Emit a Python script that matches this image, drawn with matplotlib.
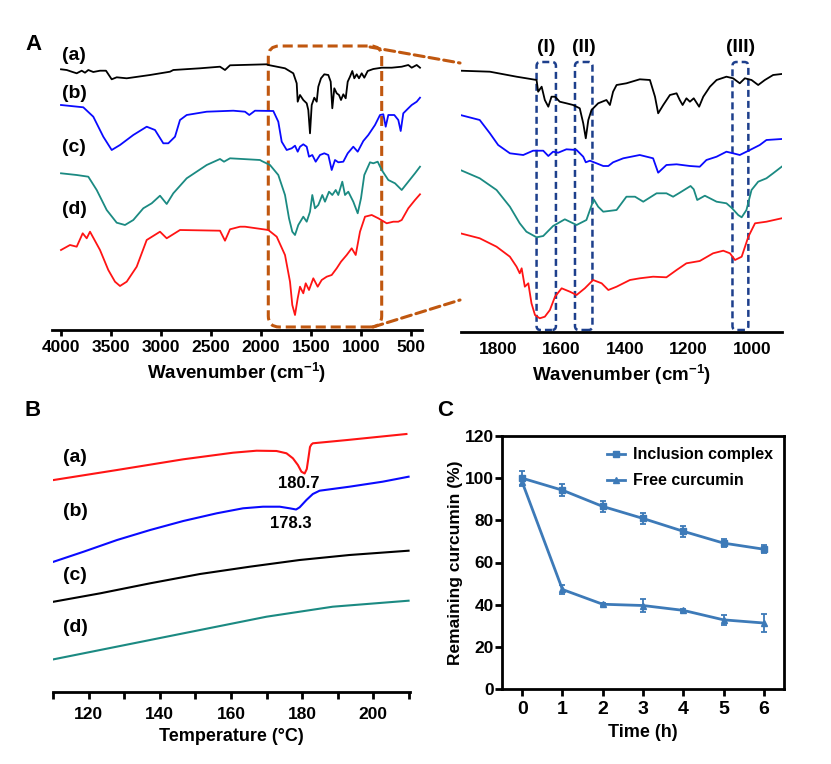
import matplotlib
matplotlib.use('Agg')
import numpy as np
import matplotlib.pyplot as plt
from matplotlib.patches import FancyBboxPatch, ConnectionPatch
from matplotlib.lines import Line2D

plt.rcParams['font.family'] = ['Liberation Sans', 'DejaVu Sans']
plt.rcParams['font.weight'] = 'bold'
plt.rcParams['mathtext.fontset'] = 'custom'
plt.rcParams['mathtext.bf'] = 'Liberation Sans:bold'
plt.rcParams['mathtext.rm'] = 'Liberation Sans:bold'

# ---- FTIR full range (a.u., stacked) ----
ir_wn_a = [4000, 3943, 3893, 3843, 3793, 3760, 3727, 3677, 3610, 3550, 3493, 3443, 3343, 3110, 2910, 2877,
           2610, 2410, 2360, 2310, 1943, 1927, 1760, 1677, 1660, 1643, 1633, 1610, 1577, 1543, 1527, 1510,
           1493, 1467, 1443, 1427, 1400, 1367, 1327, 1303, 1287, 1267, 1243, 1220, 1200, 1177, 1153, 1133,
           1110, 1087, 1067, 1043, 1020, 993, 967, 933, 877, 793, 693, 593, 527, 493, 443, 410]
ir_a = [260.7, 260, 258.3, 256.7, 259.3, 257.3, 260, 258, 259.3, 259.3, 250.7, 252.7, 251.7, 255, 258.3, 260,
        261.7, 263.3, 260, 264.7, 265.7, 265, 261.7, 256.7, 251.7, 246.7, 228.3, 235, 230, 226.7, 220, 196.7,
        225, 232.3, 228.3, 243.3, 251.7, 255.7, 255, 248.3, 221.7, 241.7, 236.7, 235, 230, 235.7, 231.7, 248.3,
        253.3, 259, 251.7, 255.7, 251.7, 256.7, 252.3, 259, 261, 262.3, 262.3, 263.3, 265, 262.3, 265, 262.3]

ir_wn_b = [4000, 3777, 3677, 3577, 3493, 3410, 3277, 3143, 3060, 2977, 2927, 2860, 2810, 2743, 2543, 2277,
           2160, 2117, 2060, 1877, 1827, 1793, 1743, 1693, 1660, 1633, 1610, 1577, 1543, 1520, 1487, 1453,
           1410, 1367, 1327, 1293, 1260, 1227, 1177, 1133, 1077, 1033, 977, 927, 860, 810, 777, 753, 727,
           667, 627, 603, 577, 527, 493, 443, 410]
ir_b = [225, 222.7, 213.3, 193.3, 180, 185, 195, 203.3, 200, 186.7, 186.7, 193.3, 210, 215, 218.3, 219.3,
        218.3, 215, 219.3, 219, 208.3, 188.3, 180, 181.7, 184.3, 178.3, 183.3, 185.7, 183.3, 173.3, 175, 168.3,
        175, 176.7, 175, 160, 170, 167.7, 168.3, 176.7, 183.3, 178.3, 189, 195, 205, 215, 215.7, 203.3, 215,
        215, 210, 199, 216.7, 221.7, 225, 228.3, 232.3]

ir_wn_c = [4000, 3843, 3727, 3643, 3543, 3443, 3360, 3277, 3177, 3093, 3010, 2943, 2877, 2743, 2543, 2410,
           2370, 2310, 2010, 1993, 1910, 1827, 1760, 1720, 1687, 1660, 1627, 1577, 1543, 1510, 1487, 1460,
           1427, 1387, 1360, 1320, 1287, 1253, 1227, 1187, 1160, 1127, 1077, 1033, 1000, 967, 910, 877, 833,
           793, 727, 660, 593, 527, 460, 410]
ir_c = [156.7, 155, 153.3, 140, 120, 107.3, 105, 110, 121.7, 126.7, 134.3, 126, 136.7, 151.7, 165, 171,
        168.3, 171.7, 170, 169, 165, 155, 135, 111.7, 98.3, 95, 105, 113.3, 108.3, 118.3, 135, 121.7,
        125, 135, 128.3, 138.3, 135, 140, 135, 148.3, 135, 138.3, 128.3, 116.7, 131.7, 155, 167.7, 166.7, 168.3,
        160, 150, 146.7, 140, 148.3, 156.7, 163.3]

ir_wn_d = [4000, 3910, 3843, 3783, 3743, 3710, 3610, 3527, 3460, 3410, 3343, 3243, 3143, 3010, 2943, 2810,
           2410, 2360, 2310, 2210, 2160, 1927, 1843, 1760, 1710, 1687, 1660, 1633, 1610, 1577, 1553, 1520,
           1477, 1433, 1393, 1343, 1293, 1243, 1200, 1143, 1093, 1053, 1010, 960, 893, 827, 743, 677, 627,
           593, 527, 460, 410]
ir_d = [80, 85, 83.3, 96.7, 91.7, 98.3, 80, 60, 48.3, 44, 48.3, 63.3, 90, 98.3, 91.7, 100,
        99.3, 89.3, 100.7, 103.3, 103.3, 100, 93.3, 75, 48.3, 25, 15, 31.7, 43.3, 36.7, 46.7, 40,
        51.7, 43.3, 50, 53.3, 55, 61.7, 68.3, 75, 81.7, 75, 98.3, 113.3, 115, 111.7, 106.7, 108.3, 108.3,
        110, 121.7, 130, 135.7]

# ---- FTIR zoomed 1900-900 ----
zm_wn_a = [1918, 1825, 1741, 1710, 1678, 1673, 1662, 1652, 1641, 1631, 1620, 1605, 1584, 1563, 1542, 1531,
           1523, 1515, 1505, 1484, 1458, 1447, 1437, 1426, 1395, 1353, 1321, 1305, 1295, 1279, 1258, 1237,
           1227, 1218, 1206, 1195, 1183, 1166, 1153, 1132, 1111, 1080, 1059, 1038, 1022, 1001, 980, 959, 933, 906]
zm_a = [261.3, 260.3, 255.3, 253.7, 252, 240.3, 245.3, 232, 225.3, 235.3, 235.3, 230.3, 228.7, 227, 223.7, 208.7,
        193.7, 212, 222, 228.7, 232, 227, 240.3, 247, 248.7, 252.7, 252, 235.3, 218.7, 227, 237, 238.7,
        232, 227, 233.7, 230.3, 233.7, 225.3, 235.3, 245.3, 252, 255.3, 253.7, 248.7, 253.7, 252, 247, 252, 257, 258]

zm_wn_b = [1918, 1857, 1825, 1799, 1762, 1720, 1689, 1657, 1641, 1626, 1610, 1584, 1552, 1531, 1523, 1510,
           1489, 1468, 1452, 1437, 1405, 1353, 1311, 1295, 1269, 1237, 1195, 1164, 1143, 1111, 1080, 1059,
           1038, 1006, 975, 954, 906]
zm_b = [217, 212, 198.7, 187, 178.7, 177, 181.3, 181.3, 176, 180.3, 179.3, 182.7, 182, 175.3, 169.7, 171.3,
        168.7, 166, 166, 169.7, 173.7, 177, 173.7, 159.3, 167, 167.7, 166, 165.3, 172, 175.3, 180.3, 178.7,
        177, 182, 187, 192, 193]

zm_wn_c = [1918, 1857, 1804, 1762, 1731, 1710, 1678, 1657, 1626, 1589, 1552, 1521, 1498, 1484, 1468, 1426,
           1395, 1368, 1342, 1300, 1269, 1248, 1227, 1193, 1183, 1172, 1148, 1111, 1080, 1064, 1043, 1032,
           1017, 1001, 980, 954, 933, 906]
zm_c = [162, 153.7, 142, 125.3, 108.7, 100.3, 94.7, 96, 106, 112.7, 107, 112, 132.7, 125.3, 120.3, 122,
        135.3, 135.3, 130.3, 138.7, 138.7, 135.3, 139.3, 146, 142.7, 132, 136.3, 130.3, 128.7, 124.3, 117, 114.7,
        122, 142, 150.3, 153.7, 158.7, 165.3]

zm_wn_d = [1918, 1857, 1804, 1762, 1741, 1731, 1725, 1715, 1704, 1694, 1683, 1668, 1652, 1636, 1620, 1599,
           1573, 1552, 1526, 1500, 1473, 1452, 1426, 1384, 1353, 1311, 1269, 1237, 1206, 1164, 1122, 1090,
           1069, 1053, 1032, 1011, 990, 954, 906]
zm_d = [98.7, 93.7, 85.3, 75.3, 65.3, 58.7, 63.7, 45.3, 48.7, 28.7, 17, 13.7, 15.3, 22, 35.3, 43.7,
        40.3, 37, 43.7, 52, 48.7, 42, 45.3, 52, 53.7, 55.3, 54.7, 62, 68.7, 71, 78.7, 81.3,
        78.7, 72, 75.3, 95.3, 108.7, 110.3, 113.7]

# ---- DSC ----
dsc_t_a = [110.2, 128.0, 146.6, 160.6, 167.2, 172.8, 175.6, 177.4, 178.8, 179.8, 180.7, 181.3, 181.8, 182.2,
           182.6, 183.0, 192.7, 209.3]
dsc_a = [212, 222, 232.7, 239.3, 241.3, 241, 238.7, 233.7, 227, 220.3, 218.5, 223, 235, 245, 247.5, 248.7, 252, 258]
dsc_t_b = [110.2, 118.6, 128.0, 137.3, 146.6, 156.0, 163.4, 169.0, 173.7, 176.5, 178.3, 179.3, 181.2, 183.0,
           184.9, 193.3, 202.6, 209.9]
dsc_b = [130.3, 140.3, 152, 162, 171, 178.7, 183.7, 185.3, 185.3, 183.7, 182.5, 184.7, 192, 198, 201.3, 205.3,
         210.3, 215.3]
dsc_t_c = [110.2, 123.3, 137.3, 151.3, 165.3, 179.3, 193.3, 209.9]
dsc_c = [90.3, 98.7, 108.7, 118, 125.3, 132, 137, 141.3]
dsc_t_d = [110.2, 141.9, 170.0, 188.6, 209.9]
dsc_d = [32.7, 55.3, 75.3, 85.3, 91.3]

# ---- stability ----
time_h = [0, 1, 2, 3, 4, 5, 6]
inclusion = [100, 94.3, 86.6, 80.9, 74.8, 69.2, 66.3]
inclusion_err = [3.6, 2.8, 2.7, 2.5, 2.5, 2.0, 1.8]
free_cur = [98.2, 47.2, 40.2, 39.6, 37.3, 32.8, 31.3]
free_err = [1.6, 2.0, 0.8, 2.9, 0.8, 2.4, 4.2]

BLACK = 'black'
BLUE = '#0a0aff'
TEAL = '#1b8a82'
RED = '#ff1414'
ORANGE = '#c0570f'
NAVY = '#1d3f8c'
STEEL = '#3d7ab8'
W, H = 831, 764

fig = plt.figure(figsize=(W / 100, H / 100), dpi=100)


def only_bottom(ax):
    for s in ['left', 'right', 'top']:
        ax.spines[s].set_visible(False)
    ax.spines['bottom'].set_linewidth(2)
    ax.set_yticks([])
    ax.tick_params(axis='x', labelsize=12.5, width=2)


# --- A left ---
axA = fig.add_axes([52 / W, 1 - 330 / H, 370 / W, 290 / H])
for wn, v, c in [(ir_wn_a, ir_a, BLACK), (ir_wn_b, ir_b, BLUE), (ir_wn_c, ir_c, TEAL), (ir_wn_d, ir_d, RED)]:
    axA.plot(wn, v, color=c, lw=1.3)
axA.set_xlim(4090, 390)
axA.set_ylim(0, 290)
axA.set_xticks([4000, 3500, 3000, 2500, 2000, 1500, 1000, 500])
only_bottom(axA)
axA.tick_params(axis='x', direction='out', length=4, pad=3)
axA.set_xlabel('Wavenumber (cm$^{\\mathbf{-1}}$)', fontsize=13.5, fontweight='bold', labelpad=4)
for lab, v in zip(['(a)', '(b)', '(c)', '(d)'], [274, 236, 182, 120]):
    axA.text(3990, v, lab, fontsize=14, fontweight='bold', ha='left', va='center')
box = FancyBboxPatch((793, 3), 1927 - 793, 281, boxstyle='round,pad=0,rounding_size=110',
                     mutation_aspect=0.1, fill=False, ec=ORANGE, lw=2.2, ls=(0, (3.3, 1.6)), clip_on=False)
axA.add_patch(box)

# --- A right ---
axA2 = fig.add_axes([461 / W, 1 - 332 / H, 321 / W, 292 / H])
for wn, v, c in [(zm_wn_a, zm_a, BLACK), (zm_wn_b, zm_b, BLUE), (zm_wn_c, zm_c, TEAL), (zm_wn_d, zm_d, RED)]:
    axA2.plot(wn, v, color=c, lw=1.3)
axA2.set_xlim(1916, 905)
axA2.set_ylim(0, 292)
axA2.set_xticks([1800, 1600, 1400, 1200, 1000])
only_bottom(axA2)
axA2.tick_params(axis='x', length=0, pad=7)
axA2.set_xlabel('Wavenumber (cm$^{\\mathbf{-1}}$)', fontsize=13.5, fontweight='bold', labelpad=4)
for (x0, x1), lab in zip([(1617, 1678), (1502, 1557), (1011, 1061)], ['(I)', '(II)', '(III)']):
    axA2.add_patch(FancyBboxPatch((x0, 2), x1 - x0, 268, boxstyle='round,pad=0,rounding_size=12.6',
                                  mutation_aspect=0.3175, fill=False, ec=NAVY, lw=1.8,
                                  ls=(0, (2.8, 1.6)), clip_on=False))
    axA2.text((x0 + x1) / 2, 284, lab, fontsize=14, fontweight='bold', ha='center', va='center')

for xa, ya, yb in [(910, 283, 269 / 292), (880, 3, 32 / 292)]:
    con = ConnectionPatch(xyA=(xa, ya), coordsA=axA.transData, xyB=(-0.003, yb), coordsB=axA2.transAxes,
                          color=ORANGE, lw=2.2, ls=(0, (3.3, 1.6)))
    fig.add_artist(con)

# --- B ---
axB = fig.add_axes([53 / W, 1 - 692 / H, 357 / W, 270 / H])
for t, v, c in [(dsc_t_a, dsc_a, RED), (dsc_t_b, dsc_b, BLUE), (dsc_t_c, dsc_c, BLACK), (dsc_t_d, dsc_d, TEAL)]:
    axB.plot(t, v, color=c, lw=1.5)
axB.set_xlim(110, 210.3)
axB.set_ylim(0, 270)
only_bottom(axB)
axB.set_xticks([120, 140, 160, 180, 200])
axB.set_xticks(np.arange(110, 211, 20), minor=True)
axB.tick_params(axis='x', which='both', direction='out', length=5, width=2, pad=6)
axB.set_xlabel('Temperature (°C)', fontsize=13, fontweight='bold', labelpad=4)
for lab, v in zip(['(a)', '(b)', '(c)', '(d)'], [235, 180, 116, 64]):
    axB.text(112.9, v, lab, fontsize=14, fontweight='bold', ha='left', va='center')
axB.text(179.1, 208.5, '180.7', fontsize=12, fontweight='bold', ha='center', va='center')
axB.text(176.9, 169, '178.3', fontsize=12, fontweight='bold', ha='center', va='center')

# --- C ---
axC = fig.add_axes([502 / W, 1 - 689 / H, 282 / W, 253 / H])
axC.errorbar(time_h, inclusion, yerr=inclusion_err, color=STEEL, marker='s', ms=4.5, lw=2,
             capsize=2.5, elinewidth=1.3, capthick=1.3, label='Inclusion complex')
axC.errorbar(time_h, free_cur, yerr=free_err, color=STEEL, marker='^', ms=5, lw=2,
             capsize=2.5, elinewidth=1.3, capthick=1.3, label='Free curcumin')
axC.set_xlim(-0.5, 6.5)
axC.set_ylim(0, 120)
axC.set_xticks(time_h)
axC.set_yticks([0, 20, 40, 60, 80, 100, 120])
for s in axC.spines.values():
    s.set_linewidth(2)
axC.tick_params(axis='x', labelsize=14, length=5, width=2, pad=4)
axC.tick_params(axis='y', labelsize=12.5, length=5, width=2, pad=1)
axC.set_xlabel('Time (h)', fontsize=13, fontweight='bold', labelpad=4)
axC.set_ylabel('Remaining curcumin (%)', fontsize=12.5, fontweight='bold', labelpad=1)
handles = [Line2D([], [], color=STEEL, marker='s', ms=4, lw=2),
           Line2D([], [], color=STEEL, marker='^', ms=4.5, lw=2)]
axC.legend(handles, ['Inclusion complex', 'Free curcumin'], loc='upper right', frameon=False,
           fontsize=11.5, handlelength=1.1, handletextpad=0.5, borderaxespad=0.1, labelspacing=0.7,
           borderpad=0.6)

for lab, x, y in [('A', 25, 45), ('B', 25, 411), ('C', 437, 410)]:
    fig.text(x / W, 1 - y / H, lab, fontsize=16, fontweight='bold', ha='left', va='center')

fig.savefig('out.png', dpi=100)
